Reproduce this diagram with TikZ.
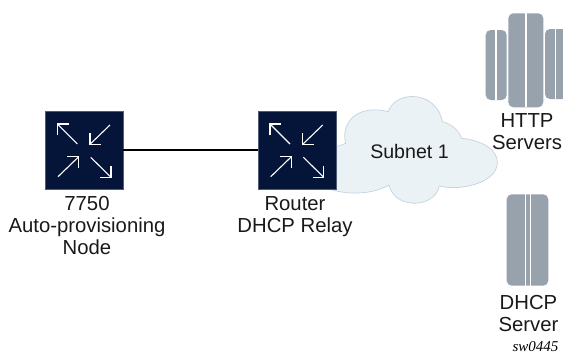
\documentclass[tikz,border=0pt]{standalone}
\usepackage{fontspec}
\setmainfont{Liberation Sans}
\newfontfamily\capfont{Liberation Serif}
\definecolor{navy}{HTML}{05153A}
\definecolor{srv}{HTML}{97A2AD}
\definecolor{cloudfill}{HTML}{EBF2F5}
\definecolor{cloudline}{HTML}{C6D2DF}
\tikzset{
  routerbox/.style={draw=navy!70!white,line width=.5pt,fill=navy,minimum size=78pt,inner sep=0pt,outer sep=0pt},
  arrowline/.style={draw=white,line width=1.1pt,line cap=butt,line join=miter},
  link/.style={draw=black,line width=2pt},
  label/.style={align=center,font=\fontsize{20.3}{22}\selectfont,inner sep=0pt,text=black!90},
  srvbody/.style={fill=srv,draw=none,rounded corners=5pt},
  divider/.style={draw=white,line width=1.1pt},
  pics/xarrows/.style={code={
    \draw[arrowline] (-7,-6.3) -- (-26.5,-25.8);
    \draw[arrowline] (-27,-15) -- (-27,-26.3) -- (-15.7,-26.3);
    \draw[arrowline] (25.7,-25.3) -- (6.2,-6.5);
    \draw[arrowline] (5.7,-17) -- (5.7,-6) -- (17,-6);
    \draw[arrowline] (-26.3,26.4) -- (-6,6.8);
    \draw[arrowline] (-17,6.4) -- (-5.6,6.4) -- (-5.6,17.7);
    \draw[arrowline] (6.4,7) -- (26.2,26.5);
    \draw[arrowline] (26.7,16) -- (26.7,27) -- (15.5,27);
  }}
}
\begin{document}
\begin{tikzpicture}[x=1pt,y=-1pt]
\useasboundingbox (0,0) rectangle (563,354);
% cloud
\begin{scope}[shift={(320,50)},x=.3333pt,y=-.3333pt]
\filldraw[fill=cloudfill,draw=cloudline,line width=.7pt]
  (30,292) .. controls (45,292) and (62,286) .. (77,280)
  .. controls (62,225) and (105,160) .. (205,185)
  .. controls (225,120) and (350,120) .. (367,215)
  .. controls (395,222) and (415,240) .. (425,265)
  .. controls (495,272) and (535,305) .. (532,340)
  .. controls (530,395) and (430,425) .. (358,408)
  .. controls (345,475) and (225,480) .. (207,405)
  .. controls (165,430) and (95,438) .. (30,418) -- cycle;
\end{scope}
\node[routerbox] (edge) at (84.3,150.3) {};
\node[routerbox] (router) at (297,150.3) {};
\draw[link] (edge) -- (router);
\pic at (edge) {xarrows};
\pic at (router) {xarrows};
\node[label,font=\fontsize{19.6}{22}\selectfont] (subnet) at (409.5,151) {Subnet 1};
\node[label] (l1) at (87,225.5) {7750\\Auto-provisioning\\Node};
\node[label] (l2) at (295,217) {Router\\DHCP Relay};
% HTTP servers
\fill[srvbody] (485.7,30) rectangle (506.7,100);
\fill[srvbody] (508.3,13.3) rectangle (543.3,107.3);
\fill[srvbody] (545,29) rectangle (570,99);
\draw[divider] (496,30) -- (496,100);
\draw[divider] (526,13.3) -- (526,107.3);
\draw[divider] (555.7,29) -- (555.7,99);
\node[label] (l3) at (527,132) {HTTP\\Servers};
% DHCP server
\fill[srvbody] (506.7,194.3) rectangle (548.3,285.7);
\draw[divider] (525.5,194.3) -- (525.5,285.7);
\draw[divider] (530.3,194.3) -- (530.3,285.7);
\node[label] (l4) at (528.5,314) {DHCP\\Server};
\node[inner sep=0pt,font=\capfont\itshape\fontsize{15}{16}\selectfont] (cap) at (535.5,347) {sw0445};
\end{tikzpicture}
\end{document}
